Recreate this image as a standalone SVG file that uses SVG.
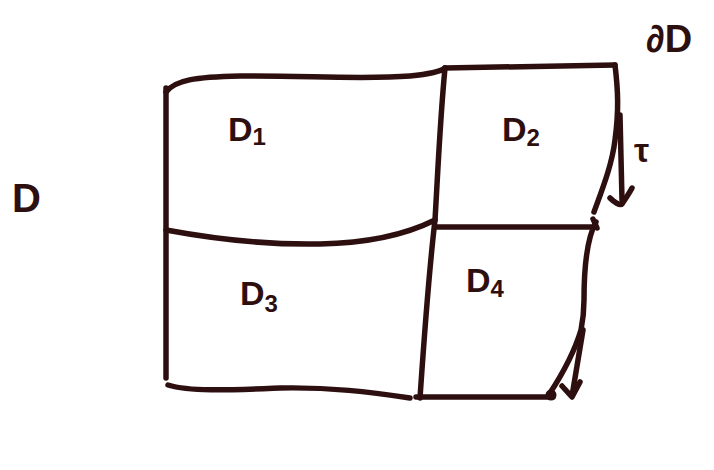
<svg xmlns="http://www.w3.org/2000/svg" width="714" height="470" viewBox="0 0 714 470">
<style>
.s{fill:none;stroke:#2e0f10;stroke-width:5.5;stroke-linecap:round;stroke-linejoin:round}
.t{fill:#2e0f10;font-family:"Liberation Sans",sans-serif;font-weight:bold}
</style>
<rect width="714" height="470" fill="#fff"/>
<g id="outline">
<path class="s" d="M166,88 L166,378"/>
<path class="s" d="M166,92 C175,80 195,77 240,76 C300,75 360,80 410,76 C430,74 440,72 445,68"/>
<path class="s" d="M445,68 L615,65"/>
<path class="s" d="M615,65 C618,90 619,110 615,140 C612,165 602,190 594,212"/>
<path class="s" d="M445,68 C440,120 438,170 435,220 C428,280 424,340 420,398"/>
<path class="s" d="M166,230 C220,240 270,245 320,244 C370,243 405,235 435,220"/>
<path class="s" d="M435,227 L595,227"/>
<path class="s" d="M596,222 C586,240 584,270 584,300 C584,315 582,325 581,330 C575,350 565,370 550,393"/>
<path class="s" d="M168,385 C190,392 230,390 280,388 C330,387 370,392 410,398"/>
<path class="s" d="M416,397 L553,397"/>
<circle cx="551" cy="395" r="5.5" fill="#2e0f10"/>
<path class="s" d="M593,219 L597,228" stroke-width="7"/>
</g>
<g id="arrows">
<path class="s" d="M620,115 L622,200"/>
<path class="s" d="M610,198 C614,202 620,206 622,204 C626,198 630,192 632,188"/>
<path class="s" d="M583,330 L572,396"/>
<path class="s" d="M562,386 L572,397 L580,382"/>
</g>
<g id="labels">
<text class="t" x="12" y="212" font-size="40">D</text>
<text class="t" x="646" y="52" font-size="38">∂D</text>
<text class="t" x="228" y="141" font-size="34">D<tspan font-size="24" dy="4">1</tspan></text>
<text class="t" x="502" y="141" font-size="34">D<tspan font-size="24" dy="5">2</tspan></text>
<text class="t" x="240" y="305" font-size="34">D<tspan font-size="24" dy="7">3</tspan></text>
<text class="t" x="466" y="292" font-size="34">D<tspan font-size="24" dy="5">4</tspan></text>
<text class="t" x="634" y="162" font-size="34">τ</text>
</g>
</svg>
